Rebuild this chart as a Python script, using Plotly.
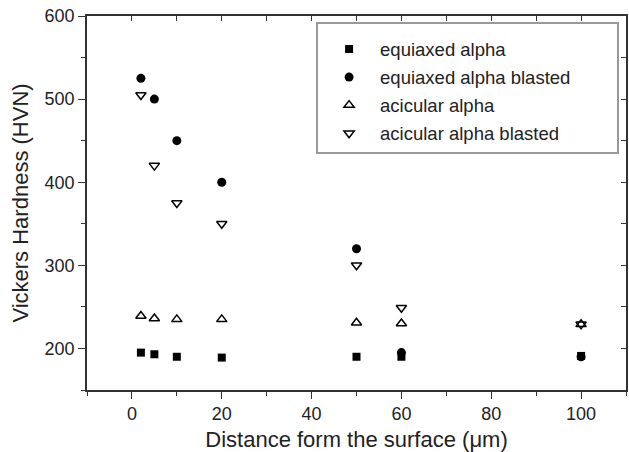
import plotly.graph_objects as go

x_equi = [2, 5, 10, 20, 50, 60, 100]
y_equi = [195, 193, 190, 189, 190, 190, 191]
x_equi_bl = [2, 5, 10, 20, 50, 60, 100]
y_equi_bl = [525, 500, 450, 400, 320, 195, 190]
x_acic = [2, 5, 10, 20, 50, 60, 100]
y_acic = [239, 236, 235, 235, 231, 230, 229]
x_acic_bl = [2, 5, 10, 20, 50, 60, 100]
y_acic_bl = [505, 420, 375, 350, 300, 249, 229]

names = ["equiaxed alpha", "equiaxed alpha blasted", "acicular alpha", "acicular alpha blasted"]
x_ticks = [0, 20, 40, 60, 80, 100]
y_ticks = [200, 300, 400, 500, 600]

FONT = "Arial, Liberation Sans, sans-serif"
AX = "#333333"
PAD = "\u00a0" * 8

fig = go.Figure()
series = [
    (x_equi, y_equi, "square", 8, dict(color="black")),
    (x_equi_bl, y_equi_bl, "circle", 9, dict(color="black")),
    (x_acic, y_acic, "triangle-up-open", 9, dict(color="black", line=dict(width=1.5, color="black"))),
    (x_acic_bl, y_acic_bl, "triangle-down-open", 9, dict(color="black", line=dict(width=1.5, color="black"))),
]
for i, (xs, ys, sym, sz, mk) in enumerate(series):
    m = dict(symbol=sym, size=sz, **mk)
    nm = names[i] + (PAD if i == 1 else "")
    axes = dict(xaxis="x2", yaxis="y2") if i == 3 else {}
    fig.add_trace(go.Scatter(x=xs, y=ys, mode="markers", name=nm, marker=m,
                             legendgroup=f"g{i}", **axes))

fig.update_layout(
    width=629, height=452,
    margin=dict(l=87, r=3, t=16, b=62),
    plot_bgcolor="white", paper_bgcolor="white",
    font=dict(family=FONT, size=18, color="#222222"),
    showlegend=True,
    legend=dict(x=0.425, y=0.984, xanchor="left", yanchor="top",
                bordercolor="#999999", borderwidth=2, bgcolor="white",
                font=dict(size=18.5, family=FONT, color="#222222"),
                title=dict(text="\u00a0", font=dict(size=5)),
                tracegroupgap=1, itemwidth=52),
    xaxis=dict(range=[-10, 110], tickvals=x_ticks, ticks="outside", ticklen=7,
               tickwidth=1.2, tickcolor=AX, showline=True, linecolor=AX, linewidth=1.5,
               showgrid=False, zeroline=False, automargin=False,
               minor=dict(dtick=10, tick0=0, ticks="outside", ticklen=4, tickcolor=AX, tickwidth=1.2),
               title=dict(text="Distance form the surface (\u03bcm)", standoff=8),
               tickfont=dict(size=18)),
    yaxis=dict(range=[150, 600], tickvals=y_ticks, ticks="outside", ticklen=7,
               tickwidth=1.2, tickcolor=AX, showline=True, linecolor=AX, linewidth=1.5,
               showgrid=False, zeroline=False, automargin=False,
               minor=dict(dtick=50, tick0=0, ticks="outside", ticklen=4, tickcolor=AX, tickwidth=1.2),
               title=dict(text="Vickers Hardness (HVN)", standoff=10),
               tickfont=dict(size=18)),
    xaxis2=dict(range=[-10, 110], overlaying="x", side="top", dtick=10, tick0=0,
                ticks="inside", ticklen=5, tickcolor=AX, tickwidth=1.2, showticklabels=False,
                showline=True, linecolor=AX, linewidth=1.5, showgrid=False, zeroline=False,
                automargin=False),
    yaxis2=dict(range=[150, 600], overlaying="y", side="right", dtick=50, tick0=0,
                ticks="inside", ticklen=5, tickcolor=AX, tickwidth=1.2, showticklabels=False,
                showline=True, linecolor=AX, linewidth=1.5, showgrid=False, zeroline=False,
                automargin=False),
)
fig.write_html("out.html", config={"displayModeBar": False},
               post_script="document.body.style.margin='0';document.body.style.overflow='hidden';")
